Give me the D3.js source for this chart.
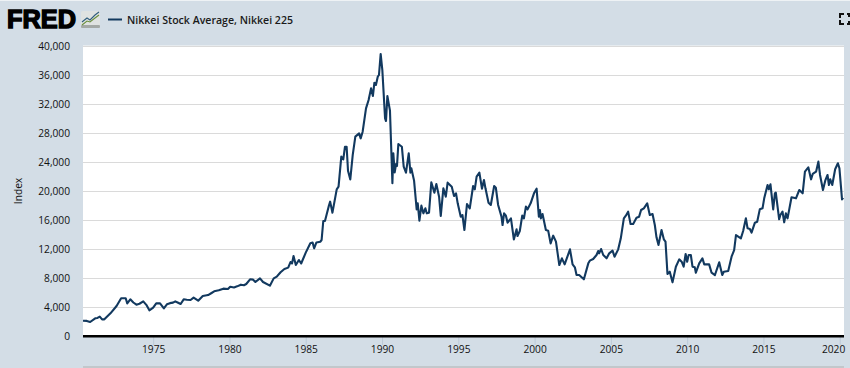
<!DOCTYPE html>
<html><head><meta charset="utf-8">
<script src="https://cdn.jsdelivr.net/npm/d3@7"></script>
<style>html,body{margin:0;padding:0;background:#d3dde6;overflow:hidden}svg{display:block}text{font-family:"Open Sans",sans-serif}</style>
</head><body><svg id="c" width="850" height="368"></svg>
<script>
const years=[1970.4,1970.65,1970.87,1971.2,1971.35,1971.5,1971.65,1971.8,1972.2,1972.6,1972.9,1973.2,1973.3,1973.5,1973.7,1973.9,1974.1,1974.35,1974.55,1974.75,1975,1975.2,1975.45,1975.7,1975.9,1976.1,1976.3,1976.45,1976.6,1976.8,1977,1977.2,1977.45,1977.65,1977.95,1978.25,1978.6,1978.8,1979,1979.3,1979.6,1979.9,1980.05,1980.3,1980.5,1980.75,1980.95,1981.1,1981.35,1981.55,1981.7,1982,1982.2,1982.65,1982.9,1983.1,1983.35,1983.6,1983.85,1984,1984.1,1984.2,1984.35,1984.55,1984.7,1985,1985.3,1985.45,1985.55,1985.7,1985.95,1986.04,1986.15,1986.26,1986.5,1986.6,1986.75,1987.03,1987.15,1987.33,1987.46,1987.57,1987.68,1987.77,1987.92,1988.08,1988.25,1988.5,1988.6,1988.73,1988.95,1989.12,1989.28,1989.4,1989.5,1989.6,1989.72,1989.8,1989.91,1990.02,1990.2,1990.26,1990.35,1990.52,1990.68,1990.74,1990.83,1990.92,1990.98,1991.07,1991.3,1991.42,1991.57,1991.75,1991.86,1991.92,1992.1,1992.27,1992.34,1992.45,1992.58,1992.71,1992.84,1992.93,1993.08,1993.23,1993.43,1993.56,1993.74,1993.85,1994.02,1994.18,1994.3,1994.57,1994.72,1994.85,1994.96,1995.16,1995.27,1995.4,1995.57,1995.75,1995.97,1996.08,1996.2,1996.38,1996.55,1996.68,1996.78,1996.98,1997.13,1997.35,1997.46,1997.61,1997.83,1997.9,1998,1998.12,1998.23,1998.45,1998.64,1998.82,1998.88,1999.03,1999.19,1999.3,1999.43,1999.54,1999.74,1999.96,2000.13,2000.28,2000.35,2000.41,2000.52,2000.74,2000.89,2001.05,2001.22,2001.4,2001.62,2001.79,2001.97,2002.32,2002.49,2002.64,2002.75,2002.92,2003.23,2003.52,2003.62,2003.84,2004.06,2004.17,2004.23,2004.36,2004.5,2004.72,2004.89,2005.11,2005.24,2005.48,2005.65,2005.85,2005.98,2006.13,2006.29,2006.46,2006.68,2006.85,2006.98,2007.16,2007.38,2007.55,2007.73,2007.88,2007.99,2008.12,2008.32,2008.47,2008.58,2008.71,2008.86,2009.04,2009.26,2009.48,2009.64,2009.77,2009.9,2010,2010.1,2010.24,2010.35,2010.5,2010.57,2010.79,2011,2011.12,2011.44,2011.6,2011.82,2012.1,2012.3,2012.4,2012.69,2012.91,2013.08,2013.2,2013.52,2013.67,2013.85,2013.96,2014.11,2014.22,2014.44,2014.59,2014.76,2014.94,2015.05,2015.27,2015.35,2015.46,2015.64,2015.75,2015.81,2016.03,2016.11,2016.25,2016.36,2016.47,2016.58,2016.84,2017.13,2017.35,2017.57,2017.72,2017.94,2018.12,2018.23,2018.45,2018.6,2018.71,2018.9,2019.05,2019.2,2019.29,2019.38,2019.51,2019.7,2019.88,2019.98,2020.15,2020.22];
const values=[2100,2080,1930,2440,2490,2670,2300,2300,3130,4140,5200,5200,4500,5060,4620,4320,4450,4780,4300,3540,3900,4500,4500,3816,4370,4530,4600,4780,4620,4410,5060,5000,4970,5290,4870,5520,5650,5900,6160,6300,6530,6480,6800,6700,6850,7080,7000,7170,7820,7770,7450,7950,7450,6940,7950,8180,8800,9240,9430,10200,10000,11030,9790,10480,10000,11500,12800,12900,12090,12900,13000,13240,15860,15860,17840,18530,17010,20230,20600,24740,24370,26100,26100,22800,21600,24970,27500,27950,27260,28180,31400,32550,34160,33100,34940,34620,35770,36000,38900,36690,30020,29650,33100,31080,21060,25200,22570,23720,23450,26480,26100,23360,22530,25200,22530,23130,21430,17470,18300,15910,17980,16920,17610,16920,17010,21200,19770,20970,19220,16550,20370,19220,21150,20600,19310,19680,18300,16460,16690,14620,18210,17610,20690,20230,21980,22530,20320,21520,20370,18390,18070,20690,20460,18070,16460,15310,16920,16600,15630,16230,13330,14710,13790,14480,16600,16230,17840,17470,18300,19680,20320,16460,17380,16230,16830,14620,14530,12780,13840,13010,9790,10710,9880,11950,9880,9470,8410,8410,7820,10020,10390,10620,11170,11720,11400,12000,11170,10710,11400,11770,10940,11950,13470,16230,16600,17150,15450,15450,16320,16460,17380,17610,18300,16690,16830,15310,13610,12550,14620,13330,13010,8550,8870,7400,9560,10570,10250,9560,11310,10250,11170,11170,9560,9470,8730,10020,10710,9880,9880,8730,8410,10160,8410,8870,8960,10940,11860,13930,13470,14480,16230,14850,14760,14250,15630,15770,17470,17610,18990,20830,20230,20920,17470,19680,19770,16100,16690,17150,15680,16920,16230,19130,18990,20140,19680,22670,23270,21610,22350,22670,24050,22210,20140,21430,22210,20830,21610,20830,23000,23820,23130,18850,19080];
const yTicks=[0,4000,8000,12000,16000,20000,24000,28000,32000,36000,40000];
const xTicks=[1975,1980,1985,1990,1995,2000,2005,2010,2015,2020];
const seriesName="Nikkei Stock Average, Nikkei 225";
const yTitle="Index";

const svg=d3.select("#c");
const L=83,R=844,T=46,B=336;
const x=d3.scaleLinear().domain([1970.4,2020.28]).range([L,R]);
const y=d3.scaleLinear().domain([0,40000]).range([B,T]);
const font='"Open Sans",sans-serif';

svg.append("rect").attr("x",0).attr("y",0).attr("width",850).attr("height",1).attr("fill","#eef2f5");
svg.append("rect").attr("x",L).attr("y",T-1).attr("width",R-L).attr("height",1).attr("fill","#e6ebef");
svg.append("rect").attr("x",L).attr("y",T).attr("width",R-L).attr("height",B-T).attr("fill","#fff");
svg.append("rect").attr("x",L).attr("y",366).attr("width",R-L).attr("height",2).attr("fill","#c2c7cb");

const yAxis=svg.append("g").attr("transform",`translate(${L},0)`)
  .call(d3.axisLeft(y).tickValues(yTicks).tickSize(0).tickPadding(13).tickFormat(d3.format(",")));
yAxis.select(".domain").remove();
yAxis.selectAll("text").attr("font-size",10.2).attr("fill","#111").style("font-family",font);

svg.append("g").selectAll("line").data(yTicks.filter(d=>d>0)).join("line")
  .attr("x1",L).attr("x2",R).attr("y1",d=>Math.round(y(d))+.5).attr("y2",d=>Math.round(y(d))+.5)
  .attr("stroke","#dadada").attr("stroke-width",1);

const xAxis=svg.append("g").attr("transform",`translate(0,${B})`)
  .call(d3.axisBottom(x).tickValues(xTicks).tickSize(9).tickPadding(1).tickFormat(d3.format("d")));
xAxis.select(".domain").remove();
xAxis.selectAll("line").attr("stroke","#bccad8");
xAxis.selectAll("text").attr("font-size",10.2).attr("fill","#111").style("font-family",font);
xAxis.selectAll("g.tick").filter(d=>d===2020).select("text").attr("text-anchor","end").attr("dx",5);

svg.append("rect").attr("x",L).attr("y",B-1).attr("width",R-L).attr("height",2.5).attr("fill","#000");

svg.append("path").datum(years.map((d,i)=>[d,values[i]]))
  .attr("fill","none").attr("stroke","#12395f").attr("stroke-width",2.1).attr("stroke-linejoin","round")
  .attr("d",d3.line().x(d=>x(d[0])).y(d=>y(d[1])));

svg.append("text").attr("transform",`translate(22,191) rotate(-90)`).attr("text-anchor","middle")
  .attr("font-size",10.2).attr("fill","#111").text(yTitle);

svg.append("text").attr("x",7).attr("y",28).attr("font-size",25).attr("font-weight",900)
  .attr("stroke","#000").attr("stroke-width",1.4).attr("textLength",69).attr("lengthAdjust","spacingAndGlyphs")
  .style("font-family",'"Liberation Sans",sans-serif').text("FRED");
const ic=svg.append("g").attr("transform","translate(81,11)");
ic.append("rect").attr("width",19).attr("height",17).attr("rx",2).attr("fill","#dfe2e1");
ic.append("rect").attr("y",14).attr("width",19).attr("height",3).attr("rx",1).attr("fill","#a3a8a5");
ic.append("path").attr("d","M1 11L6 7L9 9L14 4L18 1").attr("fill","none").attr("stroke","#2f5d7c").attr("stroke-width",1.1);
ic.append("path").attr("d","M1 14L6 10L9 11L14 7L18 4").attr("fill","none").attr("stroke","#6a8f3c").attr("stroke-width",1.1);

svg.append("line").attr("x1",108).attr("x2",122).attr("y1",19.5).attr("y2",19.5).attr("stroke","#12395f").attr("stroke-width",2);
svg.append("text").attr("x",127).attr("y",23.5).attr("font-size",11).attr("font-weight",600).attr("fill","#1a1a1a")
  .attr("textLength",166).attr("lengthAdjust","spacingAndGlyphs").text(seriesName);

svg.append("path").attr("d","M840 18v-4h4M840 20v4h4M847 14h3M847 24h3M849 14v3M849 21v3").attr("fill","none").attr("stroke","#111").attr("stroke-width",2);
</script></body></html>
